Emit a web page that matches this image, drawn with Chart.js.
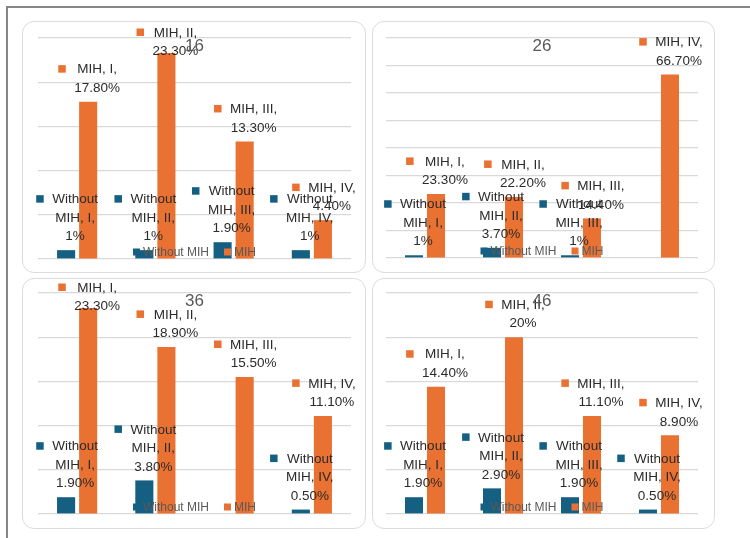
<!DOCTYPE html>
<html>
<head>
<meta charset="utf-8">
<script src="https://cdn.jsdelivr.net/npm/chart.js@4.4.1/dist/chart.umd.min.js"></script>
<style>
  html, body { margin: 0; padding: 0; background: #fff; overflow: hidden; }
  #page { position: relative; width: 750px; height: 538px; }
  #frame {
    position: absolute; left: 6px; top: 6px; right: 0; bottom: 0;
    border-top: 2px solid #868686; border-left: 2px solid #868686;
  }
  .panel {
    position: absolute; box-sizing: border-box;
    border: 1.5px solid #dcdcdc; border-radius: 12px;
  }
  canvas { position: absolute; }
</style>
</head>
<body>
<div id="page">
  <div id="frame"></div>
</div>
<script>
// chart data
const categories = ['I', 'II', 'III', 'IV'];
const seriesNames = ['Without MIH', 'MIH'];
const panelTitles = ['16', '26', '36', '46'];

const without16 = [1, 1, 1.9, 1];
const mih16 = [17.8, 23.3, 13.3, 4.4];
const without26 = [1, 3.7, 1, null];
const mih26 = [23.3, 22.2, 14.4, 66.7];
const without36 = [1.9, 3.8, null, 0.5];
const mih36 = [23.3, 18.9, 15.5, 11.1];
const without46 = [1.9, 2.9, 1.9, 0.5];
const mih46 = [14.4, 20, 11.1, 8.9];

// y axis ticks per panel
const yMax = [25, 80, 25, 25];
const yStep = [5, 10, 5, 5];

const COLORS = ['#156082', '#E97132'];
const FONT = '"Liberation Sans", Arial, sans-serif';

// panel boxes on the page and chart-area padding inside them
const panels = [
  { left: 22, top: 21, w: 344, h: 252, pad: { left: 16, right: 15, top: 17, bottom: 14 }, data: [without16, mih16] },
  { left: 372, top: 21, w: 343, h: 252, pad: { left: 14, right: 17, top: 17, bottom: 15 }, data: [without26, mih26] },
  { left: 22, top: 278, w: 344, h: 251, pad: { left: 16, right: 15, top: 15, bottom: 15 }, data: [without36, mih36] },
  { left: 372, top: 278, w: 343, h: 251, pad: { left: 14, right: 17, top: 15, bottom: 15 }, data: [without46, mih46] }
];

function fmt(v) {
  return Number.isInteger(v) ? v + '%' : v.toFixed(2) + '%';
}

function wrapText(ctx, text, maxW) {
  const words = text.split(' ');
  const lines = [];
  let cur = '';
  words.forEach(w => {
    const test = cur ? cur + ' ' + w : w;
    if (cur && ctx.measureText(test).width > maxW) {
      lines.push(cur);
      cur = w;
    } else {
      cur = test;
    }
  });
  if (cur) lines.push(cur);
  return lines;
}

// data labels with legend key, overlay legend and title
const panelDeco = {
  id: 'panelDeco',
  afterDatasetsDraw(chart) {
    const ctx = chart.ctx;
    const area = chart.chartArea;
    ctx.save();

    // legend, drawn over the bars near the baseline
    ctx.font = '12px ' + FONT;
    ctx.textBaseline = 'middle';
    ctx.textAlign = 'left';
    const box = 7, gapIn = 3, gapOut = 15;
    const widths = seriesNames.map(n => ctx.measureText(n).width);
    const total = widths.reduce((a, w) => a + box + gapIn + w, 0) + gapOut;
    let lx = (area.left + area.right) / 2 - total / 2;
    const ly = area.bottom - 7;
    seriesNames.forEach((n, i) => {
      ctx.fillStyle = COLORS[i];
      ctx.fillRect(lx, ly - box / 2, box, box);
      ctx.fillStyle = '#595959';
      ctx.fillText(n, lx + box + gapIn, ly + 0.5);
      lx += box + gapIn + widths[i] + gapOut;
    });

    // data labels
    ctx.font = '13.5px ' + FONT;
    chart.data.datasets.forEach((ds, di) => {
      const meta = chart.getDatasetMeta(di);
      meta.data.forEach((bar, j) => {
        const v = ds.data[j];
        if (v === null || v === undefined) return;
        const lines = wrapText(ctx, ds.label + ', ' + categories[j] + ', ' + fmt(v), 55);
        const w = Math.max(...lines.map(l => ctx.measureText(l).width));
        const lineH = 18.5;
        let firstY = bar.y - 14 - (lines.length - 1) * lineH;
        if (firstY < area.top - 5.5) firstY = area.top - 5.5;
        const blockW = 8 + 8 + w;
        const left = bar.x - blockW / 2 + 1;
        ctx.fillStyle = COLORS[di];
        ctx.fillRect(left, firstY - 4, 7.5, 7.5);
        ctx.fillStyle = '#2b2b2b';
        ctx.textAlign = 'center';
        lines.forEach((l, k) => {
          ctx.fillText(l, left + 16 + w / 2, firstY + k * lineH + 0.5);
        });
      });
    });
    ctx.restore();
  },
  afterDraw(chart) {
    const ctx = chart.ctx;
    const area = chart.chartArea;
    ctx.save();
    ctx.font = '17px ' + FONT;
    ctx.fillStyle = '#595959';
    ctx.textAlign = 'center';
    ctx.textBaseline = 'middle';
    ctx.fillText(chart.options.plugins.panelDeco.title, (area.left + area.right) / 2, area.top + 8);
    ctx.restore();
  }
};

const page = document.getElementById('page');

panels.forEach((p, idx) => {
  const box = document.createElement('div');
  box.className = 'panel';
  box.style.left = p.left + 'px';
  box.style.top = p.top + 'px';
  box.style.width = p.w + 'px';
  box.style.height = p.h + 'px';
  page.appendChild(box);

  const canvas = document.createElement('canvas');
  canvas.width = p.w;
  canvas.height = p.h;
  canvas.style.left = p.left + 'px';
  canvas.style.top = p.top + 'px';
  page.appendChild(canvas);

  new Chart(canvas, {
    type: 'bar',
    data: {
      labels: categories,
      datasets: seriesNames.map((name, i) => ({
        label: name,
        data: p.data[i],
        backgroundColor: COLORS[i],
        borderWidth: 0,
        categoryPercentage: 0.564,
        barPercentage: 0.82
      }))
    },
    options: {
      responsive: false,
      animation: false,
      devicePixelRatio: 1,
      layout: { padding: p.pad },
      plugins: {
        legend: { display: false },
        tooltip: { enabled: false },
        title: { display: false },
        panelDeco: { title: panelTitles[idx] }
      },
      scales: {
        x: { display: false },
        y: {
          min: 0,
          max: yMax[idx],
          ticks: { display: false, stepSize: yStep[idx] },
          grid: { color: '#d9d9d9', lineWidth: 1.2, drawTicks: false },
          border: { display: false },
          afterFit: s => { s.width = 0; }
        }
      }
    },
    plugins: [panelDeco]
  });
});
</script>
</body>
</html>
